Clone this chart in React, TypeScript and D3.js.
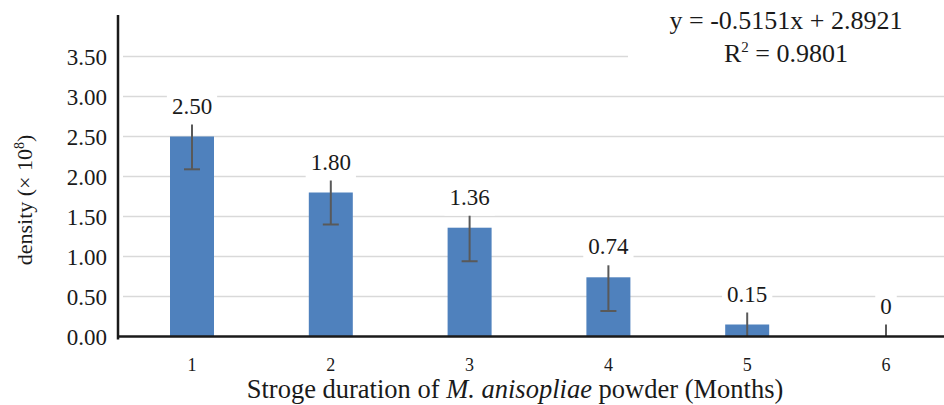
import React, { useEffect, useRef } from "react";
import * as d3 from "d3";

const months = ["1", "2", "3", "4", "5", "6"];
const density = [2.5, 1.8, 1.36, 0.74, 0.15, 0];
const errors = [0.41, 0.4, 0.42, 0.42, 0.4, 0.4];
const valueLabels = ["2.50", "1.80", "1.36", "0.74", "0.15", "0"];
const yTicks = [0, 0.5, 1, 1.5, 2, 2.5, 3, 3.5];
const equation = "y = -0.5151x + 2.8921";
const rSquared = "0.9801";

const App = () => {
  const svgRef = useRef<SVGSVGElement>(null);

  useEffect(() => {
    document.body.style.margin = "0";
    const width = 944;
    const height = 405;
    const font = "Liberation Serif";
    const ink = "#1a1a1a";

    const x = d3
      .scaleBand()
      .domain(months)
      .range([122.6, 955.4])
      .paddingInner(0.683)
      .paddingOuter(0.3415);
    const y = d3.scaleLinear([0, 3.5], [336.5, 56.5]);

    const svg = d3.select(svgRef.current);
    svg.selectAll("*").remove();
    svg.attr("width", width).attr("height", height);

    svg
      .append("defs")
      .append("clipPath")
      .attr("id", "plot-clip")
      .append("rect")
      .attr("x", 118)
      .attr("y", 0)
      .attr("width", width)
      .attr("height", y(0));

    // gridlines
    svg
      .append("g")
      .selectAll("line")
      .data(yTicks.filter((d) => d > 0))
      .join("line")
      .attr("x1", 123)
      .attr("x2", width)
      .attr("y1", (d) => y(d))
      .attr("y2", (d) => y(d))
      .attr("stroke", "#d9d9d9")
      .attr("stroke-width", 1.6);

    // y tick labels
    svg
      .append("g")
      .selectAll("text")
      .data(yTicks)
      .join("text")
      .attr("x", 107)
      .attr("y", (d) => y(d))
      .attr("dy", "0.35em")
      .attr("text-anchor", "end")
      .attr("font-family", font)
      .attr("font-size", 23)
      .attr("fill", ink)
      .text((d) => d3.format(".2f")(d));

    // bars
    svg
      .append("g")
      .selectAll("rect")
      .data(density)
      .join("rect")
      .attr("x", (_, i) => x(months[i]))
      .attr("width", x.bandwidth())
      .attr("y", (d) => y(d))
      .attr("height", (d) => y(0) - y(d))
      .attr("fill", "#4f81bd");

    // error bars
    const err = svg.append("g").attr("clip-path", "url(#plot-clip)");
    density.forEach((v, i) => {
      const cx = x(months[i]) + x.bandwidth() / 2;
      err
        .append("line")
        .attr("x1", cx)
        .attr("x2", cx)
        .attr("y1", y(v + errors[i]))
        .attr("y2", y(v - errors[i]))
        .attr("stroke", "#595959")
        .attr("stroke-width", 2);
      [v + errors[i], v - errors[i]].forEach((e) => {
        err
          .append("line")
          .attr("x1", cx - 8)
          .attr("x2", cx + 8)
          .attr("y1", y(e))
          .attr("y2", y(e))
          .attr("stroke", "#595959")
          .attr("stroke-width", 2);
      });
    });

    // value labels with white boxes
    const labels = svg.append("g");
    density.forEach((v, i) => {
      const cx = x(months[i]) + x.bandwidth() / 2;
      const base = y(v) - 23;
      const box = labels.append("rect").attr("fill", "#fff");
      const t = labels
        .append("text")
        .attr("x", cx)
        .attr("y", base)
        .attr("text-anchor", "middle")
        .attr("font-family", font)
        .attr("font-size", 23)
        .attr("fill", ink)
        .text(valueLabels[i]);
      const w = (t.node() as SVGTextElement).getComputedTextLength() + 10;
      box
        .attr("x", cx - w / 2)
        .attr("y", base - 20)
        .attr("width", w)
        .attr("height", 31);
    });

    // axes lines
    svg
      .append("line")
      .attr("x1", 118)
      .attr("x2", 118)
      .attr("y1", 15)
      .attr("y2", y(0) + 3)
      .attr("stroke", ink)
      .attr("stroke-width", 2.5);
    svg
      .append("line")
      .attr("x1", 117)
      .attr("x2", width)
      .attr("y1", y(0))
      .attr("y2", y(0))
      .attr("stroke", ink)
      .attr("stroke-width", 2.5);

    // x tick labels
    svg
      .append("g")
      .selectAll("text")
      .data(months)
      .join("text")
      .attr("x", (d) => x(d) + x.bandwidth() / 2)
      .attr("y", 371)
      .attr("text-anchor", "middle")
      .attr("font-family", font)
      .attr("font-size", 18)
      .attr("fill", ink)
      .text((d) => d);

    // x axis title
    const xt = svg
      .append("text")
      .attr("x", 515)
      .attr("y", 398)
      .attr("text-anchor", "middle")
      .attr("font-family", font)
      .attr("font-size", 26.5)
      .attr("fill", ink);
    xt.append("tspan").text("Stroge duration of ");
    xt.append("tspan").attr("font-style", "italic").text("M. anisopliae");
    xt.append("tspan").text(" powder (Months)");

    // y axis title
    const yt = svg
      .append("text")
      .attr("transform", "translate(32,200) rotate(-90)")
      .attr("text-anchor", "middle")
      .attr("font-family", font)
      .attr("font-size", 22)
      .attr("fill", ink);
    yt.append("tspan").text("density (× 10");
    yt.append("tspan").attr("font-size", 14).attr("dy", -8).text("8");
    yt.append("tspan").attr("dy", 8).text(")");

    // trendline equation box
    svg
      .append("rect")
      .attr("x", 628)
      .attr("y", 0)
      .attr("width", width - 628)
      .attr("height", 85)
      .attr("fill", "#fff");
    svg
      .append("text")
      .attr("x", 786)
      .attr("y", 29)
      .attr("text-anchor", "middle")
      .attr("font-family", font)
      .attr("font-size", 26)
      .attr("fill", ink)
      .text(equation);
    const r2 = svg
      .append("text")
      .attr("x", 786)
      .attr("y", 62)
      .attr("text-anchor", "middle")
      .attr("font-family", font)
      .attr("font-size", 26)
      .attr("fill", ink);
    r2.append("tspan").text("R");
    r2.append("tspan").attr("font-size", 15).attr("dy", -10).text("2");
    r2.append("tspan").attr("dy", 10).text(" = " + rSquared);
  }, []);

  return <svg ref={svgRef} style={{ display: "block" }} />;
};

export default App;
